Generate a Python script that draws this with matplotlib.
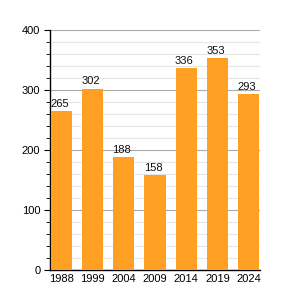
import matplotlib.pyplot as plt
from matplotlib.ticker import MultipleLocator

years = ['1988', '1999', '2004', '2009', '2014', '2019', '2024']
values = [265, 302, 188, 158, 336, 353, 293]

plt.rcParams['font.family'] = ['Liberation Sans', 'DejaVu Sans']

fig = plt.figure(figsize=(2.9, 3.0), dpi=100)
ax = fig.add_axes([50 / 290, 0.1, 210 / 290, 0.8])

x = list(range(len(years)))
bars = ax.bar(x, values, width=0.68, color='#ffa024', zorder=3)

# value labels, left aligned on each bar
for bar, v in zip(bars, values):
    ax.text(bar.get_x() - 0.02, bar.get_height() + 4, str(v),
            ha='left', va='bottom', fontsize=8, color='#111111')

ax.set_xlim(-0.36, len(years) - 0.64)
ax.set_ylim(0, 400)
ax.set_xticks(x)
ax.set_xticklabels(years)
ax.yaxis.set_major_locator(MultipleLocator(100))
ax.yaxis.set_minor_locator(MultipleLocator(20))

ax.grid(axis='y', which='major', color='#aaaaaa', linewidth=0.8, zorder=0)
ax.grid(axis='y', which='minor', color='#e6e6e6', linewidth=0.8, zorder=0)

for side in ['top', 'right']:
    ax.spines[side].set_visible(False)
ax.spines['left'].set_linewidth(1.0)
ax.spines['bottom'].set_linewidth(1.0)

ax.tick_params(axis='x', length=0, labelsize=8, pad=3)
ax.tick_params(axis='y', which='major', length=4, labelsize=8, pad=3)
ax.tick_params(axis='y', which='minor', length=3)

fig.savefig('out.png', dpi=100)
